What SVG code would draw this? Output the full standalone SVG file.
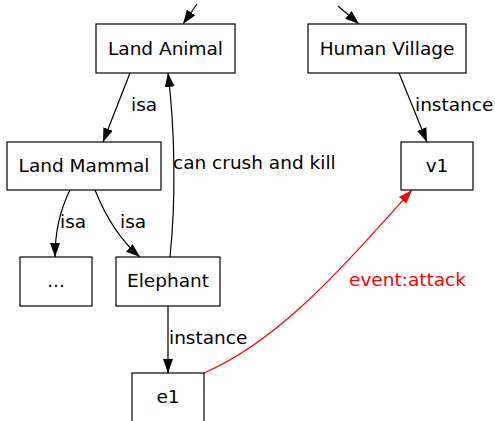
<svg xmlns="http://www.w3.org/2000/svg" width="495" height="421" viewBox="0 0 495 421">
<style>
.n rect{fill:#fff;stroke:#000;stroke-width:1.2}
text{font-family:"DejaVu Sans",sans-serif;font-size:18.5px;fill:#000}
.n text{text-anchor:middle}
.e path{fill:none;stroke:#000;stroke-width:1.2}
.e path.r{stroke:#f00}
text.r{fill:#f00}
</style>
<defs>
<marker id="a" markerUnits="userSpaceOnUse" markerWidth="14" markerHeight="10" refX="14" refY="5" orient="auto"><path d="M0,0 L14,5 L0,10 z" fill="#000"/></marker>
<marker id="ar" markerUnits="userSpaceOnUse" markerWidth="14" markerHeight="10" refX="14" refY="5" orient="auto"><path d="M0,0 L14,5 L0,10 z" fill="#f00"/></marker>
</defs>
<rect width="495" height="421" fill="#fff"/>
<g class="e" id="edges">
<path d="M197,4 L183,24" marker-end="url(#a)"/>
<path d="M338,6 L359,24" marker-end="url(#a)"/>
<path d="M130,73 L103,142" marker-end="url(#a)"/>
<path d="M170,257 C176,200 175,130 168,73" marker-end="url(#a)"/>
<path d="M70,190 C60,210 55,230 55,257" marker-end="url(#a)"/>
<path d="M95,190 C105,215 120,240 140,257" marker-end="url(#a)"/>
<path d="M399,73 L427,142" marker-end="url(#a)"/>
<path d="M168,306 L168,373" marker-end="url(#a)"/>
<path class="r" d="M204,373 C280,340 340,270 412,190" marker-end="url(#ar)"/>
<text x="131" y="111">isa</text>
<text x="173" y="169">can crush and kill</text>
<text x="60" y="228">isa</text>
<text x="120" y="228">isa</text>
<text x="415" y="111">instance</text>
<text x="169" y="344">instance</text>
<text class="r" x="349" y="286">event:attack</text>
</g>
<g class="n" id="landAnimal"><rect x="96" y="24" width="139" height="49"/><text x="165.5" y="54.5">Land Animal</text></g>
<g class="n" id="humanVillage"><rect x="308" y="24" width="158" height="49"/><text x="387" y="54.5">Human Village</text></g>
<g class="n" id="landMammal"><rect x="7" y="142" width="154" height="48"/><text x="84" y="172">Land Mammal</text></g>
<g class="n" id="v1"><rect x="401" y="142" width="72" height="48"/><text x="437" y="172">v1</text></g>
<g class="n" id="dots"><rect x="20" y="257" width="72" height="49"/><text x="56" y="287">...</text></g>
<g class="n" id="elephant"><rect x="116" y="257" width="104" height="49"/><text x="168" y="287">Elephant</text></g>
<g class="n" id="e1"><rect x="132" y="373" width="72" height="49"/><text x="168" y="403">e1</text></g>
</svg>
